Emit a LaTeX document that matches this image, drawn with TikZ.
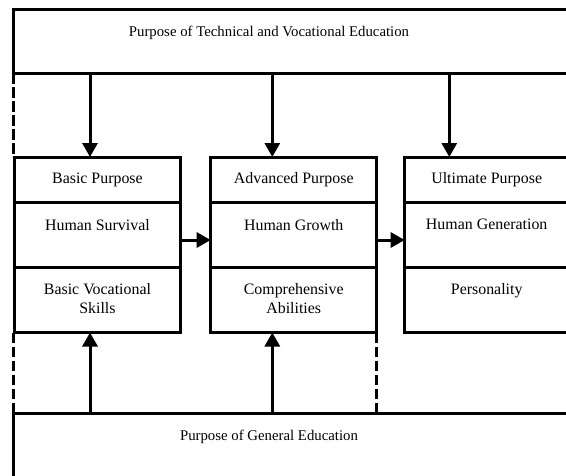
\documentclass[tikz,border=0pt]{standalone}
\usepackage{fontspec}
\setmainfont{Liberation Serif}
\usetikzlibrary{arrows.meta}
\begin{document}
\begin{tikzpicture}[x=1pt,y=-1pt,
  frame/.style={draw, line width=3pt, inner sep=0pt, outer sep=0pt, anchor=north west},
  boxtext/.style={font=\fontsize{15.9}{19}\selectfont, align=center, inner sep=0pt},
  headtext/.style={font=\fontsize{14.8}{18}\selectfont, inner sep=0pt},
  arr/.style={line width=3pt, -{Triangle[length=14pt,width=15pt]}},
  dashline/.style={line width=2.7pt, dash pattern=on 10.5pt off 3.5pt}
]
\useasboundingbox (0,0) rectangle (566,475);
\fill[white] (0,0) rectangle (566,475);

% outer purposes
\node[frame, minimum width=580pt, minimum height=63.3pt] (tve) at (13.5,9.7) {};
\node[headtext, anchor=base] (tvet) at (269,36) {Purpose of Technical and Vocational Education};
\node[frame, minimum width=580pt, minimum height=80pt] (ge) at (13.5,413.3) {};
\node[headtext, anchor=base] (get) at (269,440) {Purpose of General Education};

% basic column
\node[frame, boxtext, minimum width=165.5pt, minimum height=45pt] (b1) at (14.7,157) {Basic Purpose};
\node[frame, minimum width=165.5pt, minimum height=65.5pt] (b2) at (b1.south west) {};
\node[frame, minimum width=165.5pt, minimum height=65pt] (b3) at (b2.south west) {};
\node[boxtext, anchor=north] (b2t) at ([yshift=-17pt]b2.north) {Human Survival};
\node[boxtext, anchor=north] (b3t) at ([yshift=-16pt]b3.north) {Basic Vocational\\Skills};

% advanced column
\node[frame, boxtext, minimum width=166.1pt, minimum height=45pt] (a1) at (210.7,157) {Advanced Purpose};
\node[frame, minimum width=166.1pt, minimum height=65.5pt] (a2) at (a1.south west) {};
\node[frame, minimum width=166.1pt, minimum height=65pt] (a3) at (a2.south west) {};
\node[boxtext, anchor=north] (a2t) at ([yshift=-17pt]a2.north) {Human Growth};
\node[boxtext, anchor=north] (a3t) at ([yshift=-16pt]a3.north) {Comprehensive\\Abilities};

% ultimate column
\node[frame, boxtext, minimum width=164pt, minimum height=45pt] (u1) at (404.7,157) {Ultimate Purpose};
\node[frame, minimum width=164pt, minimum height=65.5pt] (u2) at (u1.south west) {};
\node[frame, minimum width=164pt, minimum height=65pt] (u3) at (u2.south west) {};
\node[boxtext, anchor=north] (u2t) at ([yshift=-17pt]u2.north) {Human Generation};
\node[boxtext, anchor=north] (u3t) at ([yshift=-16pt]u3.north) {Personality};

% connector positions
\coordinate (c1) at (90,0);
\coordinate (c2) at (272.3,0);
\coordinate (c3) at (449.3,0);
\coordinate (h) at (0,240);

% downward influence
\draw[arr] (tve.south -| c1) -- (b1.north -| c1);
\draw[arr] (tve.south -| c2) -- (a1.north -| c2);
\draw[arr] (tve.south -| c3) -- (u1.north -| c3);

% upward influence
\draw[arr] (ge.north -| c1) -- (b3.south -| c1);
\draw[arr] (ge.north -| c2) -- (a3.south -| c2);

% progression
\draw[arr] (b2.east |- h) -- (a2.west |- h);
\draw[arr] (a2.east |- h) -- (u2.west |- h);

% dashed boundaries
\draw[dashline] (tve.south west) -- (tve.south west |- b1.north);
\draw[dashline] (tve.south west |- b3.south) -- (ge.north west);
\draw[dashline] (a3.south east) -- (a3.south east |- ge.north);
\end{tikzpicture}
\end{document}
